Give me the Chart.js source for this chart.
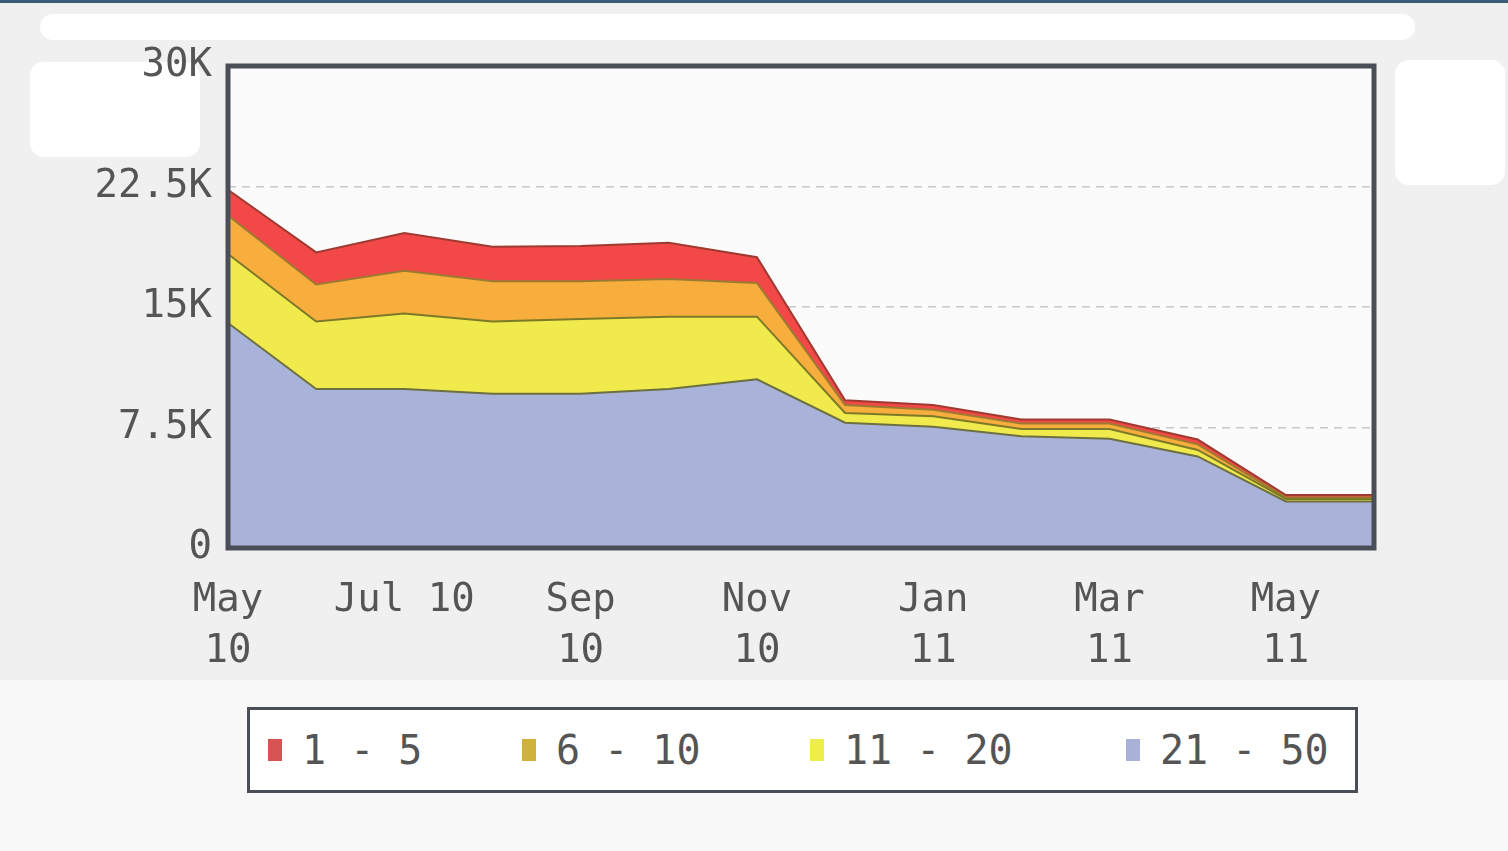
<!DOCTYPE html>
<html>
<head>
<meta charset="utf-8">
<script src="https://cdn.jsdelivr.net/npm/chart.js@4/dist/chart.umd.min.js"></script>
<style>
  html, body { margin: 0; padding: 0; }
  body { width: 1508px; height: 851px; background: #f0f0f0; position: relative; overflow: hidden; font-family: "DejaVu Sans Mono", monospace; }
  #topline { position: absolute; left: 0; top: 0; width: 1508px; height: 3px; background: #3a5a78; }
  #lower { position: absolute; left: 0; top: 680px; width: 1508px; height: 171px; background: #f8f8f8; }
  .blob { position: absolute; background: #fff; border-radius: 14px; }
  #wrap { position: absolute; left: 0; top: 0; width: 1508px; height: 690px; }
  #legend { position: absolute; left: 247px; top: 707px; width: 1105px; height: 80px; border: 3px solid #4a4e56; background: #fff; }
  .item { position: absolute; top: 0; height: 80px; display: flex; align-items: center; font-size: 40px; color: #555555; white-space: pre; }
  .sw { width: 14px; height: 22px; margin-right: 20px; }
</style>
</head>
<body>
<div id="topline"></div>
<div id="lower"></div>
<div class="blob" style="left:40px;top:14px;width:1375px;height:26px;"></div>
<div class="blob" style="left:30px;top:62px;width:170px;height:95px;"></div>
<div class="blob" style="left:1395px;top:60px;width:110px;height:125px;"></div>
<div id="wrap"><canvas id="c" width="1508" height="690"></canvas></div>
<div id="legend"></div>
<script>
// ---- data ----
const months = ['May 10','Jun 10','Jul 10','Aug 10','Sep 10','Oct 10','Nov 10','Dec 10','Jan 11','Feb 11','Mar 11','Apr 11','May 11','Jun 11'];
const xTickLabels = [['May','10'], '', 'Jul 10', '', ['Sep','10'], '', ['Nov','10'], '', ['Jan','11'], '', ['Mar','11'], '', ['May','11'], ''];
const yTickLabels = ['0', '7.5K', '15K', '22.5K', '30K'];
const seriesNames = ['1 - 5', '6 - 10', '11 - 20', '21 - 50'];
const s1to5   = [1600, 2000, 2350, 2150, 2200, 2250, 1600, 300, 300, 250, 250, 300, 150, 150];
const s6to10  = [2400, 2300, 2650, 2500, 2350, 2350, 2100, 500, 400, 350, 350, 350, 100, 100];
const s11to20 = [4300, 4200, 4700, 4500, 4650, 4500, 3900, 600, 650, 450, 600, 400, 150, 150];
const s21to50 = [14000, 9900, 9900, 9600, 9600, 9900, 10500, 7800, 7550, 6950, 6800, 5700, 2900, 2900];

// ---- styles ----
const fills   = ['#f24848', '#f7ae3c', '#f0ea4c', '#a9b3d9'];
const borders = ['#a03a30', '#9c7a30', '#7c7a28', '#6c7040'];
const legendColors = ['#d65454', '#cfb23a', '#eeee48', '#a9b1d8'];
const fontFam = '"DejaVu Sans Mono", monospace';

const bgPlugin = {
  id: 'plotbg',
  beforeDraw(chart) {
    const {ctx, chartArea: a} = chart;
    ctx.save();
    ctx.fillStyle = '#fbfbfb';
    ctx.fillRect(a.left, a.top, a.right - a.left, a.bottom - a.top);
    ctx.restore();
  },
  afterDatasetsDraw(chart) {
    const {ctx, chartArea: a} = chart;
    ctx.save();
    ctx.strokeStyle = '#4a4e56';
    ctx.lineWidth = 5;
    ctx.strokeRect(a.left, a.top, a.right - a.left, a.bottom - a.top);
    ctx.restore();
  }
};

const valsBottomUp = [s21to50, s11to20, s6to10, s1to5];
const idxBottomUp = [3, 2, 1, 0];
const datasets = valsBottomUp.map((v, k) => {
  const i = idxBottomUp[k];
  return {
    label: seriesNames[i],
    data: v,
    backgroundColor: fills[i],
    borderColor: borders[i],
    borderWidth: 2,
    pointRadius: 0,
    tension: 0,
    fill: k === 0 ? 'origin' : '-1'
  };
});

new Chart(document.getElementById('c'), {
  type: 'line',
  data: { labels: months, datasets },
  plugins: [bgPlugin],
  options: {
    responsive: false,
    animation: false,
    layout: { padding: { top: 66, right: 134, left: 0, bottom: 0 } },
    plugins: { legend: { display: false }, tooltip: { enabled: false } },
    scales: {
      x: {
        offset: false,
        grid: { display: false, drawTicks: false },
        border: { display: false },
        afterFit(s) { s.height = 142; },
        ticks: {
          autoSkip: false, maxRotation: 0, padding: 27,
          color: '#555555',
          font: { family: fontFam, size: 39, lineHeight: 1.32 },
          callback: (v, i) => xTickLabels[i]
        }
      },
      y: {
        stacked: true,
        min: 0, max: 30000,
        afterFit(s) { s.width = 228; },
        grid: {
          drawTicks: false,
          color: (c) => (c.tick && c.tick.value > 0 && c.tick.value < 30000) ? '#c8c8c8' : 'rgba(0,0,0,0)',
          lineWidth: 1.5
        },
        border: { display: false, dash: [8, 6] },
        ticks: {
          stepSize: 7500, padding: 16,
          color: '#555555',
          font: { family: fontFam, size: 39 },
          callback: (v, i) => yTickLabels[i]
        }
      }
    }
  }
});

// ---- HTML legend ----
const legendX = [18, 272, 560, 876];
const lg = document.getElementById('legend');
seriesNames.forEach((n, i) => {
  const d = document.createElement('div');
  d.className = 'item';
  d.style.left = legendX[i] + 'px';
  const sw = document.createElement('span');
  sw.className = 'sw';
  sw.style.background = legendColors[i];
  d.appendChild(sw);
  d.appendChild(document.createTextNode(n));
  lg.appendChild(d);
});
</script>
</body>
</html>
